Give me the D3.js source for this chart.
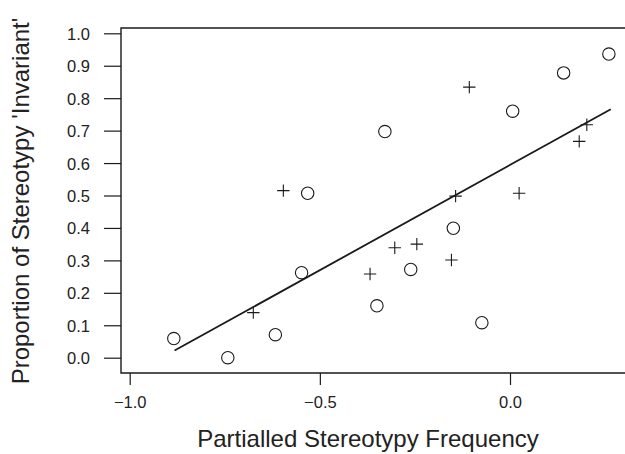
<!DOCTYPE html>
<html>
<head>
<meta charset="utf-8">
<script src="https://cdn.jsdelivr.net/npm/d3@7"></script>
<style>
  body { margin: 0; background: #fff; }
  svg text { font-family: "Liberation Sans", Arial, sans-serif; fill: #222; }
</style>
</head>
<body>
<svg id="chart" width="625" height="454"></svg>
<script>
// ---------- data ----------

// open circles
const circleX = [-0.884, -0.742, -0.617, -0.548, -0.532, -0.350, -0.329, -0.261, -0.149, -0.074, 0.007, 0.141, 0.260];
const circleY = [0.059, 0.000, 0.071, 0.262, 0.507, 0.160, 0.697, 0.272, 0.399, 0.108, 0.760, 0.878, 0.936];

// plus signs
const plusX = [-0.675, -0.596, -0.368, -0.303, -0.245, -0.154, -0.143, -0.107, 0.024, 0.182, 0.202];
const plusY = [0.139, 0.515, 0.258, 0.339, 0.350, 0.301, 0.498, 0.834, 0.507, 0.667, 0.718];

// fitted line end points
const fitX = [-0.882, 0.265];
const fitY = [0.022, 0.766];

const xTicks = [-1.0, -0.5, 0.0];
const yTicks = [0.0, 0.1, 0.2, 0.3, 0.4, 0.5, 0.6, 0.7, 0.8, 0.9, 1.0];

const xTitle = "Partialled Stereotypy Frequency";
const yTitle = "Proportion of Stereotypy 'Invariant'";

// ---------- layout ----------

const svg = d3.select("#chart");
const box = { left: 121, top: 28, right: 625, bottom: 373 };

const x = d3.scaleLinear().domain([-1, 0]).range([129.7, 510]);
const y = d3.scaleLinear().domain([0, 1]).range([357.7, 33.3]);

const ink = "#1a1a1a";

// frame: left, top and bottom (right side runs off the picture)
svg.append("path")
  .attr("d", `M${box.right},${box.top}H${box.left}V${box.bottom}H${box.right}`)
  .attr("fill", "none")
  .attr("stroke", ink)
  .attr("stroke-width", 1.4);

// y axis
const yAxis = svg.append("g")
  .attr("transform", `translate(${box.left},0)`)
  .call(d3.axisLeft(y).tickValues(yTicks).tickFormat(d3.format(".1f")).tickSize(17).tickPadding(14));
yAxis.select(".domain").remove();
yAxis.selectAll(".tick line").attr("stroke", ink).attr("stroke-width", 1.2);
yAxis.selectAll(".tick text").style("font-size", "16.5px").attr("dy", "0.36em");

// x axis
const xAxis = svg.append("g")
  .attr("transform", `translate(0,${box.bottom})`)
  .call(d3.axisBottom(x).tickValues(xTicks).tickFormat(d3.format(".1f")).tickSize(12).tickPadding(11));
xAxis.select(".domain").remove();
xAxis.selectAll(".tick line").attr("stroke", ink).attr("stroke-width", 1.2);
xAxis.selectAll(".tick text").style("font-size", "16.5px");

// axis titles
svg.append("text")
  .attr("x", 368)
  .attr("y", 447)
  .attr("text-anchor", "middle")
  .style("font-size", "24px")
  .text(xTitle);

svg.append("text")
  .attr("transform", "translate(29,201) rotate(-90)")
  .attr("text-anchor", "middle")
  .style("font-size", "24px")
  .text(yTitle);

// fitted line
svg.append("line")
  .attr("x1", x(fitX[0])).attr("y1", y(fitY[0]))
  .attr("x2", x(fitX[1])).attr("y2", y(fitY[1]))
  .attr("stroke", ink)
  .attr("stroke-width", 1.8);

// circles
svg.append("g")
  .selectAll("circle")
  .data(d3.zip(circleX, circleY))
  .join("circle")
  .attr("cx", (d) => x(d[0]))
  .attr("cy", (d) => y(d[1]))
  .attr("r", 6.2)
  .attr("fill", "none")
  .attr("stroke", ink)
  .attr("stroke-width", 1.1);

// plus signs
const half = 6.2;
svg.append("g")
  .selectAll("path")
  .data(d3.zip(plusX, plusY))
  .join("path")
  .attr("d", (d) => {
    const cx = x(d[0]), cy = y(d[1]);
    return `M${cx - half},${cy}H${cx + half}M${cx},${cy - half}V${cy + half}`;
  })
  .attr("fill", "none")
  .attr("stroke", ink)
  .attr("stroke-width", 1.1);
</script>
</body>
</html>
